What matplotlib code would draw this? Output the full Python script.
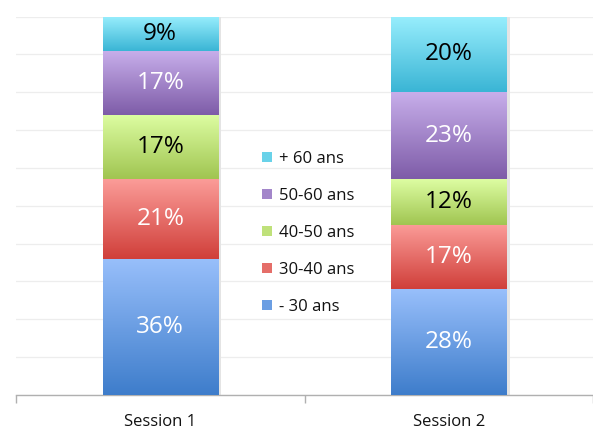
import numpy as np
import matplotlib
matplotlib.use("Agg")
import matplotlib.pyplot as plt
from matplotlib.colors import LinearSegmentedColormap, to_rgb
from matplotlib.patches import Patch

plt.rcParams["font.family"] = ["Open Sans", "DejaVu Sans"]

# data
sessions = ["Session 1", "Session 2"]
age_groups = ["- 30 ans", "30-40 ans", "40-50 ans", "50-60 ans", "+ 60 ans"]
pct_session1 = [36, 21, 17, 17, 9]
pct_session2 = [28, 17, 12, 23, 20]

# gradient colours (top, bottom) per age group
grad_top = ["#98bffb", "#fb9c98", "#ddfda2", "#c8afeb", "#98eefd"]
grad_bottom = ["#3e7dcb", "#d03f3a", "#a0c551", "#7e5ca8", "#3ab5d5"]
label_colors = ["white", "white", "black", "white", "black"]

values = np.array([pct_session1, pct_session2]).T  # groups x sessions

fig = plt.figure(figsize=(5.93, 4.29), dpi=100)
ax = fig.add_axes([16 / 593, 34 / 429, 577 / 593, 378.5 / 429])

x = np.arange(len(sessions))
bar_w = 0.40
bottoms = np.zeros(len(sessions))

# faint shadow behind the stacks
ax.bar(x + 0.012, values.sum(axis=0), width=bar_w, color="#e4e4e4",
       zorder=1, linewidth=0)

for i, grp in enumerate(age_groups):
    cmap = LinearSegmentedColormap.from_list(grp, [grad_bottom[i], grad_top[i]])
    bars = ax.bar(x, values[i], width=bar_w, bottom=bottoms, color=grad_bottom[i],
                  linewidth=0, zorder=2)
    for b, v in zip(bars, values[i]):
        x0, y0 = b.get_x(), b.get_y()
        w, h = b.get_width(), b.get_height()
        grad = np.linspace(0, 1, 128).reshape(-1, 1)
        im = ax.imshow(grad, cmap=cmap, origin="lower", aspect="auto",
                       extent=[x0, x0 + w, y0, y0 + h], zorder=3,
                       interpolation="bilinear")
        im.set_clip_path(b)
        ax.text(x0 + w / 2, y0 + h / 2, f"{v}%", ha="center", va="center",
                fontsize=17.5, color=label_colors[i], zorder=5)
    bottoms += values[i]

ax.set_xlim(-0.5, 1.5)
ax.set_ylim(0, 100)

# gridlines
ax.set_yticks(np.arange(0, 101, 10))
ax.yaxis.grid(True, color="#ededed", linewidth=0.9)
ax.set_axisbelow(True)
ax.tick_params(axis="y", left=False, labelleft=False)

ax.set_xticks(x)
ax.set_xticklabels(sessions, fontsize=12, color="#111111")
ax.tick_params(axis="x", length=0, pad=14)
ax.set_xticks([-0.5, 0.5, 1.5], minor=True)
ax.tick_params(axis="x", which="minor", length=6, color="#b0b0b0", width=1)

for s in ["top", "right", "left"]:
    ax.spines[s].set_visible(False)
ax.spines["bottom"].set_color("#b0b0b0")
ax.spines["bottom"].set_linewidth(1)

mid_colors = [(np.array(to_rgb(t)) + np.array(to_rgb(b))) / 2
              for t, b in zip(grad_top, grad_bottom)]
handles = [Patch(facecolor=c, edgecolor="none") for c in mid_colors]
leg = fig.legend(handles[::-1], age_groups[::-1], loc="upper left",
                 bbox_to_anchor=(262 / 593, 1 - 151 / 429), frameon=False,
                 fontsize=12, handlelength=0.6, handleheight=0.6,
                 handletextpad=0.4, labelspacing=1.26, borderpad=0,
                 borderaxespad=0)
for t in leg.get_texts():
    t.set_color("#111111")

fig.savefig("out.png", dpi=100)
